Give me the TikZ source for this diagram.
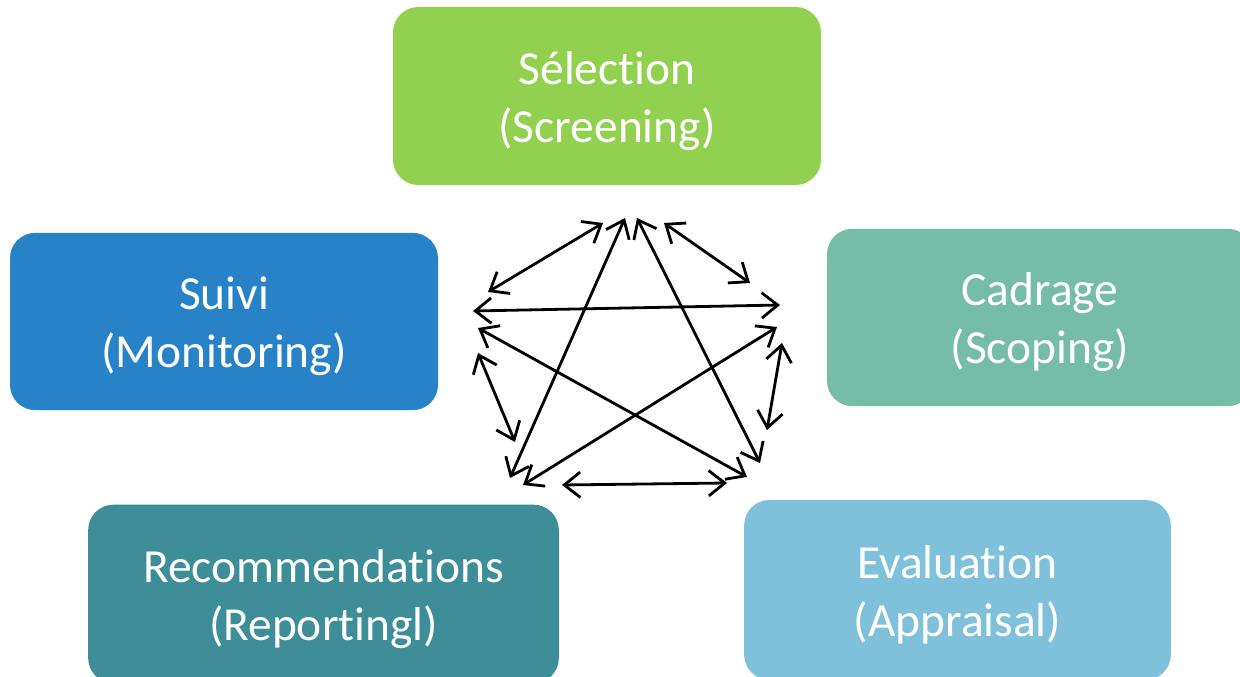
\documentclass[tikz,border=0pt]{standalone}
\usepackage{fontspec}
\setmainfont[RawFeature={-liga;-clig;-dlig;-calt;-rlig}]{Carlito}
\usetikzlibrary{arrows.meta}
\definecolor{cSel}{RGB}{146,208,80}
\definecolor{cCad}{RGB}{118,189,168}
\definecolor{cSui}{RGB}{40,130,200}
\definecolor{cRec}{RGB}{61,142,152}
\definecolor{cEva}{RGB}{127,193,219}
\tikzset{
  phase/.style={rounded corners=19pt, inner sep=0pt},
  phasetext/.style={inner sep=0pt, align=center, text=white, yshift=-3.5pt,
    font=\fontsize{35.6pt}{43.5pt}\selectfont},
  link/.style={line width=2.1pt, black, {Straight Barb[length=12pt,width=19pt]}-{Straight Barb[length=12pt,width=19pt]}}
}
\begin{document}
\begin{tikzpicture}[x=0.75pt,y=-0.75pt]
\clip (0,0) rectangle (1240,677);
\fill[white] (0,0) rectangle (1240,677);
\node[phase, fill=cSel, minimum width=321pt, minimum height=133.5pt,
  label={[phasetext]center:Sélect\kern0pt ion\\(Screening)}] (sel) at (607,96) {};
\node[phase, fill=cCad, minimum width=319.5pt, minimum height=133pt,
  label={[phasetext]center:Cadrage\\(Scoping)}] (cad) at (1040,317.5) {};
\node[phase, fill=cSui, minimum width=321pt, minimum height=133pt,
  label={[phasetext]center:Suivi\\(Monitoring)}] (sui) at (224,321.5) {};
\node[phase, fill=cRec, minimum width=353pt, minimum height=134pt,
  label={[phasetext]center:Recommendat\kern0pt ions\\(Reportingl)}] (rec) at (323.5,594) {};
\node[phase, fill=cEva, minimum width=320pt, minimum height=135pt,
  label={[phasetext]center:Evaluat\kern0pt ion\\(Appraisal)}] (eva) at (957.5,590) {};
% arrow end points
\coordinate (a1s) at (488,292); \coordinate (a1e) at (603,223);
\coordinate (a2s) at (473,311); \coordinate (a2e) at (780,305);
\coordinate (a3s) at (625,218); \coordinate (a3e) at (510,478);
\coordinate (a4s) at (637,218); \coordinate (a4e) at (760,463);
\coordinate (a5s) at (664,223); \coordinate (a5e) at (750,283);
\coordinate (a6s) at (478,328); \coordinate (a6e) at (747,477);
\coordinate (a7s) at (777,327); \coordinate (a7e) at (523,485);
\coordinate (a8s) at (782,343); \coordinate (a8e) at (767,430);
\coordinate (a9s) at (478,353); \coordinate (a9e) at (515,442);
\coordinate (a10s) at (562,485); \coordinate (a10e) at (727,483);
\draw[link] (a1s) -- (a1e);
\draw[link] (a2s) -- (a2e);
\draw[link] (a3s) -- (a3e);
\draw[link] (a4s) -- (a4e);
\draw[link] (a5s) -- (a5e);
\draw[link] (a6s) -- (a6e);
\draw[link] (a7s) -- (a7e);
\draw[link] (a8s) -- (a8e);
\draw[link] (a9s) -- (a9e);
\draw[link] (a10s) -- (a10e);
\end{tikzpicture}
\end{document}
